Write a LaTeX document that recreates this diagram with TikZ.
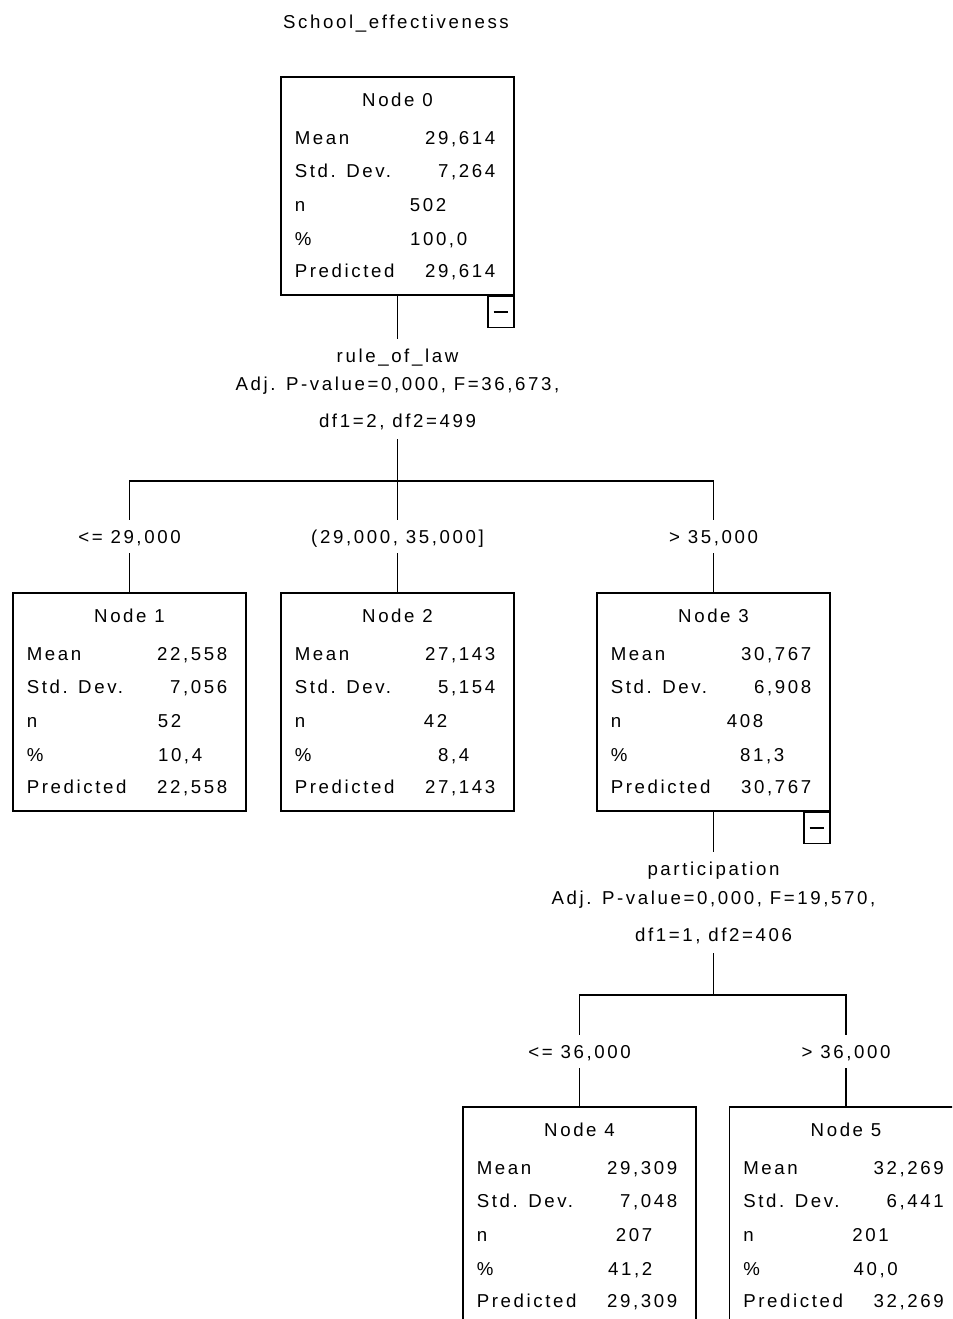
\documentclass[tikz,border=0pt]{standalone}
\usepackage{fontspec}
\setmainfont{Liberation Sans}[LetterSpace=14]
\usepackage{xcolor}
\colorlet{colTree}{black}
\usepackage{tikz}

% one box of the tree: number, left x, top y, mean, std. dev., n, %, end of n, end of %
\newcommand{\statbox}[9]{%
  \node[statbox] (n#1) at (#2+116.5,#3+109) {};
  \node[celltext, anchor=base] (n#1-title) at (#2+116.5,#3+29.5) {Node #1};
  \node[celltext, anchor=base west] (n#1-meanl) at (#2+13,#3+67.5) {Mean};
  \node[celltext, anchor=base east] (n#1-meanv) at (#2+215,#3+67.5) {#4};
  \node[celltext, anchor=base west] (n#1-sdl) at (#2+13,#3+100.5) {Std. Dev.};
  \node[celltext, anchor=base east] (n#1-sdv) at (#2+215,#3+100.5) {#5};
  \node[celltext, anchor=base west] (n#1-nl) at (#2+13,#3+134.5) {n};
  \node[celltext, anchor=base east] (n#1-nv) at (#2+#8,#3+134.5) {#6};
  \node[celltext, anchor=base west] (n#1-pl) at (#2+13,#3+168.5) {\%};
  \node[celltext, anchor=base east] (n#1-pv) at (#2+#9,#3+168.5) {#7};
  \node[celltext, anchor=base west] (n#1-predl) at (#2+13,#3+200.5) {Predicted};
  \node[celltext, anchor=base east] (n#1-predv) at (#2+215,#3+200.5) {#4};
}

\begin{document}
\begin{tikzpicture}[x=0.75pt, y=-0.75pt,
    font=\fontsize{14}{16}\selectfont, line width=1.2pt, colTree,
    statbox/.style={draw, rectangle, minimum width=174.75pt, minimum height=163.5pt, inner sep=0pt},
    celltext/.style={inner sep=0pt},
    splitlab/.style={anchor=base, inner xsep=0pt, inner ysep=6.5pt, text height=10pt, text depth=2pt},
    branchlab/.style={anchor=base, inner xsep=0pt, inner ysep=7pt, text height=10pt, text depth=0pt},
    minusbox/.style={draw, rectangle, anchor=north east, minimum width=19.5pt, minimum height=23.25pt, inner sep=0pt}]
  \useasboundingbox (0,0) rectangle (952,1319);
  \clip (0,0) rectangle (952,1319);

  \node[celltext, anchor=base] (title) at (396,29) {School\_effectiveness};

  \statbox{0}{281}{77}{29,614}{7,264}{502}{100,0}{166}{187}
  \node[minusbox] (m0) at (n0.south east) {};
  \draw ([xshift=-5.5pt]m0.center) -- ([xshift=5.5pt]m0.center);

  % first split
  \node[splitlab] (v0) at (397.5,362) {rule\_of\_law};
  \node[splitlab] (a0) at (397.5,390) {Adj. P-value=0,000, F=36,673,};
  \node[splitlab] (d0) at (397.5,427) {df1=2, df2=499};
  \coordinate (bar0) at (397.5,481);
  \draw (n0) -- (v0);
  \draw (d0) -- (bar0);

  \node[branchlab] (e1) at (129.5,543) {<= 29,000};
  \node[branchlab] (e2) at (397.5,543) {(29,000, 35,000]};
  \node[branchlab] (e3) at (713.5,543) {> 35,000};
  \draw (e1) |- (bar0) -| (e3);
  \draw (e2) -- (bar0);

  \statbox{1}{13}{593}{22,558}{7,056}{52}{10,4}{169}{190}
  \statbox{2}{281}{593}{27,143}{5,154}{42}{8,4}{167}{189}
  \statbox{3}{597}{593}{30,767}{6,908}{408}{81,3}{167}{188}
  \draw (e1) -- (n1);
  \draw (e2) -- (n2);
  \draw (e3) -- (n3);
  \node[minusbox] (m3) at (n3.south east) {};
  \draw ([xshift=-5.5pt]m3.center) -- ([xshift=5.5pt]m3.center);

  % second split
  \node[splitlab] (v3) at (713.5,875) {participation};
  \node[splitlab] (a3) at (713.5,904) {Adj. P-value=0,000, F=19,570,};
  \node[splitlab] (d3) at (713.5,941) {df1=1, df2=406};
  \coordinate (bar3) at (713.5,995);
  \draw (n3) -- (v3);
  \draw (d3) -- (bar3);

  \node[branchlab] (e4) at (579.5,1058) {<= 36,000};
  \node[branchlab] (e5) at (846,1058) {> 36,000};
  \draw (e4) |- (bar3) -| (e5);

  \statbox{4}{463}{1107}{29,309}{7,048}{207}{41,2}{190}{190}
  \statbox{5}{729.5}{1107}{32,269}{6,441}{201}{40,0}{160}{169}
  \draw (e4) -- (n4);
  \draw (e5) -- (n5);
\end{tikzpicture}
\end{document}
